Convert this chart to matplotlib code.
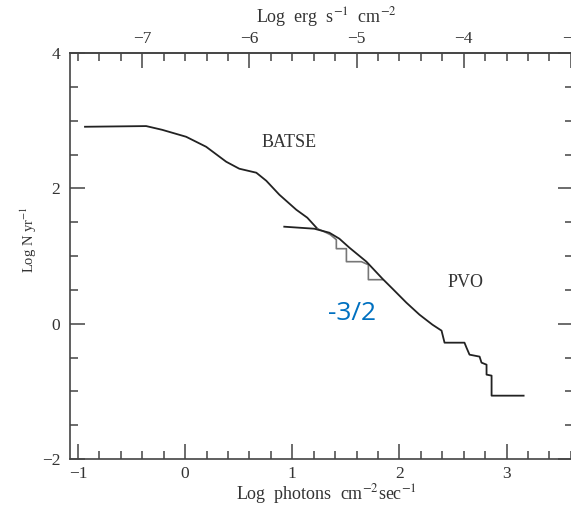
import matplotlib
matplotlib.use("Agg")
import matplotlib.pyplot as plt
from matplotlib.ticker import MultipleLocator, FuncFormatter

plt.rcParams['font.family'] = ['Liberation Serif', 'DejaVu Serif']
plt.rcParams['mathtext.fontset'] = 'stix'

# BATSE curve (log photons cm^-2 s^-1, log N/yr)
batse_x = [-0.935, -0.364, -0.215, 0.009, 0.196, 0.383, 0.505, 0.664, 0.757, 0.879, 1.037, 1.140, 1.234]
batse_y = [2.91, 2.92, 2.865, 2.762, 2.614, 2.393, 2.290, 2.231, 2.112, 1.906, 1.684, 1.566, 1.403]

# BATSE step continuation (grey)
step_x = [1.234, 1.299, 1.355, 1.411, 1.411, 1.505, 1.505, 1.645, 1.710, 1.710, 1.841]
step_y = [1.403, 1.359, 1.315, 1.241, 1.108, 1.108, 0.916, 0.916, 0.871, 0.650, 0.650]

# PVO curve
pvo_x = [0.925, 1.206, 1.346, 1.439, 1.533, 1.692, 1.841, 1.935, 2.065, 2.187, 2.308, 2.393,
         2.421, 2.607, 2.626, 2.654, 2.748, 2.766, 2.813, 2.813, 2.860, 2.860, 3.159]
pvo_y = [1.433, 1.403, 1.344, 1.256, 1.123, 0.916, 0.665, 0.517, 0.310, 0.133, -0.015, -0.103,
         -0.281, -0.281, -0.355, -0.458, -0.487, -0.576, -0.606, -0.753, -0.768, -1.064, -1.064]

x_ticks = [-1, 0, 1, 2, 3]
y_ticks = [-2, 0, 2, 4]
top_offset = 6.6

W, H = 571, 509
fig = plt.figure(figsize=(W/100, H/100), dpi=100)
ax = fig.add_axes([70/W, 50/H, 503/W, 406/H])

ax.plot(batse_x, batse_y, color='#222222', lw=1.3)
ax.plot(step_x, step_y, color='#777777', lw=1.2)
ax.plot(pvo_x, pvo_y, color='#222222', lw=1.3)

ax.set_xlim(-1.075, 3.62)
ax.set_ylim(-2, 4)

axis_col = '#444444'
txt_col = '#333333'
for s in ax.spines.values():
    s.set_color(axis_col)
    s.set_linewidth(1.2)

fmt = FuncFormatter(lambda v, p: f"{int(round(v))}".replace('-', '\u2212'))
ax.set_xticks(x_ticks)
ax.xaxis.set_minor_locator(MultipleLocator(0.2))
ax.set_yticks(y_ticks)
ax.yaxis.set_minor_locator(MultipleLocator(0.5))
ax.xaxis.set_major_formatter(fmt)
ax.yaxis.set_major_formatter(fmt)
ax.tick_params(which='both', direction='in', colors=axis_col, labelcolor=txt_col,
               labelsize=12.5, right=True, top=False)
ax.tick_params(which='major', length=11, width=1.1)
ax.tick_params(which='minor', length=6, width=1.1)
ax.tick_params(axis='x', pad=5)
ax.tick_params(axis='y', pad=7)

sec = ax.secondary_xaxis('top', functions=(lambda x: x - top_offset, lambda x: x + top_offset))
sec.xaxis.set_major_locator(MultipleLocator(1))
sec.xaxis.set_minor_locator(MultipleLocator(0.2))
sec.xaxis.set_major_formatter(fmt)
sec.tick_params(which='both', direction='in', colors=axis_col, labelcolor=txt_col, labelsize=12.5)
sec.tick_params(which='major', length=11, width=1.1, pad=4)
sec.tick_params(which='minor', length=6, width=1.1)
sec.spines['top'].set_color(axis_col)
sec.spines['top'].set_linewidth(1.2)

fig.text(326/W, 1 - 17/H, r'Log  erg  s$^{-1}$  cm$^{-2}$', fontsize=13, color=txt_col,
         ha='center', va='center')
fig.text(326/W, 1 - 494/H, r'Log  photons  cm$^{-2}$sec$^{-1}$', fontsize=13, color=txt_col,
         ha='center', va='center')
fig.text(29/W, 1 - 240/H, r'Log N yr$^{-1}$', fontsize=10.5, color=txt_col,
         ha='center', va='center', rotation=90)

ax.text(0.97, 2.67, 'BATSE', fontsize=13, color=txt_col, ha='center', va='center')
ax.text(2.62, 0.61, 'PVO', fontsize=13, color=txt_col, ha='center', va='center')
ax.text(1.56, 0.15, '-3/2', fontsize=19, color='#0070C0', ha='center', va='center',
        family=['Open Sans', 'DejaVu Sans'])

fig.savefig('out.png', dpi=100)
